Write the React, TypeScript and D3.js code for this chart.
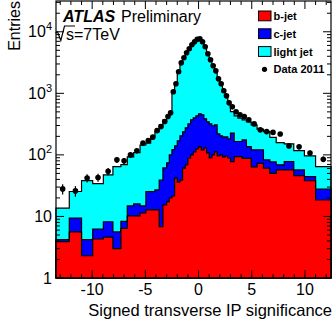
import React from 'react';
import * as d3 from 'd3';

const binEdges = [-13.4, -12.15, -11.0, -9.95, -8.95, -8.05, -7.3, -6.7, -6.1, -5.5, -4.95, -4.5, -4.1, -3.7, -3.35, -3.0, -2.75, -2.5,
  -2.25, -2.0, -1.75, -1.5, -1.25, -1.0, -0.75, -0.5, -0.25, 0, 0.25, 0.5, 0.75, 1.0, 1.25, 1.5, 1.75, 2.0, 2.25, 2.5,
  2.75, 3.0, 3.35, 3.7, 4.1, 4.5, 4.95, 5.5, 6.1, 6.7, 7.3, 8.05, 8.95, 9.95, 11.0, 12.45];

const bJet = [3.9, 5.6, 2.3, 4.3, 4.6, 3.0, 6.4, 10.2, 10.2, 11.4, 12.8, 12.8, 12.8, 6.8, 15.4, 17.4, 20,
  21.5, 42, 36, 39, 61, 69, 89, 100, 112, 125, 135, 121, 130, 108, 89, 100, 112, 96, 100, 93,
  96, 89, 78, 94, 94, 88, 88, 64, 73, 61, 50, 57, 57, 46, 38, 18.5];

const cJet = [0.3, 3.8, 1.9, 1.9, 3.6, 2.6, 1.9, 4.6, 5.8, 3.4, 12.5, 12.5, 14.2, 32, 46, 57, 80,
  100, 98, 133, 165, 176, 206, 230, 271, 288, 306, 329, 326, 255, 236, 230, 196, 195, 123, 104, 103,
  100, 93, 147, 71, 71, 87, 48, 57, 48, 22, 27, 12, 21, 11, 6.2, 9.2];

const lightJet = [9.5, 16, 34, 28, 39, 59, 61, 78, 93, 130, 130, 174, 212, 268, 310, 357, 400,
  879, 1210, 1930, 2750, 3360, 4080, 4780, 5530, 6300, 6970, 7040, 6150, 5070, 3860, 3030, 2400, 1890, 1430, 1150, 844,
  681, 493, 281, 266, 230, 196, 208, 186, 141, 156, 116, 89, 73, 60, 52, 37];

const data2011 = [28, 26, 42, 43, 54, 83, 80, 100, 117, 155, 171, 194, 248, 288, 348, 420, 482,
  1060, 1430, 2240, 3130, 3780, 4560, 5300, 6150, 6880, 7550, 7700, 6880, 5700, 4390, 3510, 2800, 2320, 1720, 1430, 1100,
  910, 701, 603, 500, 447, 420, 371, 319, 255, 239, 232, 219, 140, 135, 107, 85];

const xTicksMajor = [-10, -5, 0, 5, 10];
const xTickLabels = ['-10', '-5', '0', '5', '10'];
const yTicksMajor = [1, 10, 100, 1000, 10000];
const yTickBase = ['1', '10', '10', '10', '10'];
const yTickExp = ['', '', '2', '3', '4'];

const legendLabels = ['b-jet', 'c-jet', 'light jet', 'Data 2011'];
const legendColors = ['#ff0000', '#0000ff', '#00ffff'];

const W = 335, H = 327;
const L = 56, R = 331, T = 1, B = 278;
const FONT = '"Liberation Sans", Arial, Helvetica, sans-serif';

export default function App() {
  const x = d3.scaleLinear().domain([-13.4, 12.45]).range([L, R]);
  const y = d3.scaleLog().domain([1, Math.pow(10, 4.5)]).range([B, T]).clamp(true);

  const stack = d3.stack<number>().keys(['b', 'c', 'l'])
    .value((i: number, k: string) => (k === 'b' ? bJet[i] : k === 'c' ? cJet[i] : lightJet[i]));
  const series = stack(d3.range(bJet.length));

  const histPath = (tops: number[]) => {
    let p = `M${x(binEdges[0])},${B}`;
    tops.forEach((v, i) => {
      const yy = y(Math.max(v, 1));
      p += `L${x(binEdges[i])},${yy}L${x(binEdges[i + 1])},${yy}`;
    });
    p += `L${x(binEdges[binEdges.length - 1])},${B}Z`;
    return p;
  };

  const layers = [
    { tops: series[2].map((d) => d[1]), color: legendColors[2] },
    { tops: series[1].map((d) => d[1]), color: legendColors[1] },
    { tops: series[0].map((d) => d[1]), color: legendColors[0] },
  ];

  const xMinor = d3.range(-13, 13);
  const yMinor: number[] = [];
  for (let e = 0; e < 5; e++) for (let k = 2; k <= 9; k++) {
    const v = k * Math.pow(10, e);
    if (v <= Math.pow(10, 4.5)) yMinor.push(v);
  }

  return (
    <svg width={W} height={H} style={{ position: 'absolute', left: 0, top: 0, background: '#fff' }}
      fontFamily={FONT}>
      <rect x={0} y={0} width={W} height={H} fill="#fff" />
      {layers.map((ly, i) => (
        <path key={i} d={histPath(ly.tops)} fill={ly.color} stroke="#000" strokeWidth={1.2} strokeLinejoin="miter" />
      ))}
      {data2011.map((v, i) => {
        const cx = x((binEdges[i] + binEdges[i + 1]) / 2);
        const e = Math.sqrt(v);
        return (
          <g key={i}>
            <line x1={cx} x2={cx} y1={y(v + e)} y2={y(Math.max(v - e, 1))} stroke="#000" strokeWidth={1.2} />
            <circle cx={cx} cy={y(v)} r={2.8} fill="#000" />
          </g>
        );
      })}
      <rect x={L} y={T} width={R - L} height={B - T} fill="none" stroke="#000" strokeWidth={1.2} />
      {xMinor.map((t) => {
        const major = t % 5 === 0;
        const len = major ? 8 : 4;
        return (
          <g key={'xt' + t}>
            <line x1={x(t)} x2={x(t)} y1={B} y2={B - len} stroke="#000" strokeWidth={1} />
            <line x1={x(t)} x2={x(t)} y1={T} y2={T + len} stroke="#000" strokeWidth={1} />
          </g>
        );
      })}
      {xTicksMajor.map((t, i) => (
        <text key={'xl' + t} x={x(t)} y={295} fontSize={16} textAnchor="middle" fill="#000">{xTickLabels[i]}</text>
      ))}
      {yTicksMajor.map((t) => (
        <g key={'yt' + t}>
          <line x1={L} x2={L + 8} y1={y(t)} y2={y(t)} stroke="#000" strokeWidth={1} />
          <line x1={R} x2={R - 8} y1={y(t)} y2={y(t)} stroke="#000" strokeWidth={1} />
        </g>
      ))}
      {yMinor.map((t) => (
        <g key={'ym' + t}>
          <line x1={L} x2={L + 4} y1={y(t)} y2={y(t)} stroke="#000" strokeWidth={1} />
          <line x1={R} x2={R - 4} y1={y(t)} y2={y(t)} stroke="#000" strokeWidth={1} />
        </g>
      ))}
      {yTicksMajor.map((t, i) => (
        <text key={'yl' + t} x={52} y={y(t) + 5.5} fontSize={16} textAnchor="end" fill="#000">
          {yTickBase[i]}
          {yTickExp[i] && <tspan fontSize={11} dy={-7}>{yTickExp[i]}</tspan>}
        </text>
      ))}
      <text x={332} y={316} fontSize={16.5} textAnchor="end" fill="#000">Signed transverse IP significance</text>
      <text transform={`translate(20,1) rotate(-90)`} fontSize={16} textAnchor="end" fill="#000">Entries</text>
      <text x={63} y={21.5} fontSize={16} fill="#000">
        <tspan fontWeight="bold" fontStyle="italic">ATLAS</tspan>
        <tspan x={121}>Preliminary</tspan>
      </text>
      <path d="M55.5,33 L57.5,31.8 L60.8,40.5 L64.5,26 L75,26" fill="none" stroke="#000" strokeWidth={1.2} />
      <text x={66} y={40} fontSize={16} fill="#000">s=7TeV</text>
      {legendColors.map((c, i) => (
        <rect key={'lb' + i} x={258.5} y={11 + i * 17.8} width={12.5} height={9.8} fill={c} stroke="#000" strokeWidth={1} />
      ))}
      <circle cx={264.5} cy={69.3} r={2.6} fill="#000" />
      {legendLabels.map((s, i) => (
        <text key={'ll' + i} x={273.5} y={20 + i * 17.8} fontSize={11} fontWeight="bold" fill="#000">{s}</text>
      ))}
    </svg>
  );
}
